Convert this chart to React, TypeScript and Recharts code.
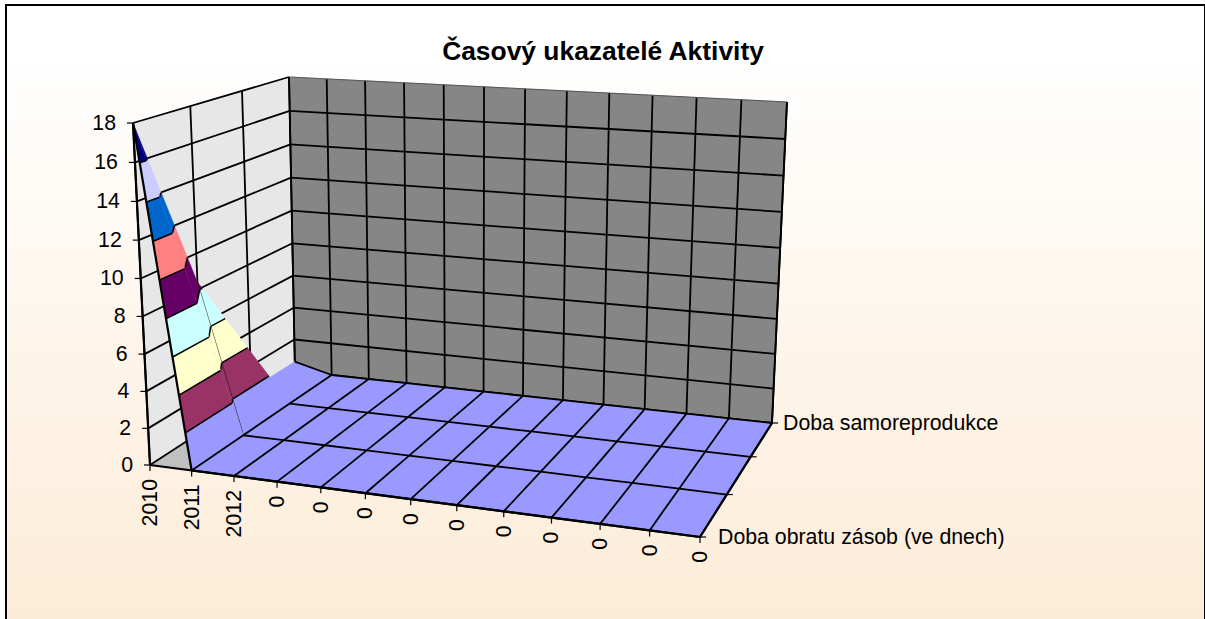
import { ScatterChart, Scatter, XAxis, YAxis } from 'recharts';

const WIDTH = 1205;
const HEIGHT = 619;

const TITLE = 'Časový ukazatelé Aktivity';
const categories = ['2010', '2011', '2012', '0', '0', '0', '0', '0', '0', '0', '0', '0', '0'];
const seriesNames = ['Doba obratu zásob (ve dnech)', '', '', 'Doba samoreprodukce'];
const valueTicks = [0, 2, 4, 6, 8, 10, 12, 14, 16, 18];

const obratZasob = [18, 0, 0, 0, 0, 0, 0, 0, 0, 0, 0, 0, 0];
const obratPohledavek = [8.4, 0, 0, 0, 0, 0, 0, 0, 0, 0, 0, 0, 0];
const obratZavazku = [0.6, 0, 0, 0, 0, 0, 0, 0, 0, 0, 0, 0, 0];
const samoreprodukce = [0.6, 0, 0, 0, 0, 0, 0, 0, 0, 0, 0, 0, 0];
const rows = [obratZasob, obratPohledavek, obratZavazku, samoreprodukce];

const bandColors = ['#9999FF', '#993366', '#FFFFCC', '#CCFFFF', '#660066', '#FF8080', '#0066CC', '#CCCCFF', '#000080'];

type Pt = { x: number; y: number };
type Shape = { points: Pt[]; fill: string; stroke: string; strokeWidth: number };
type P3 = { u: number; v: number; z: number };

// corners of the 3d box as it sits on the page
const floorMap = quadMap({ x: 150, y: 465 }, { x: 700, y: 537 }, { x: 772, y: 423 }, { x: 295, y: 371 });
const ceilMap = quadMap({ x: 133, y: 123 }, { x: 714, y: 150 }, { x: 787, y: 102 }, { x: 289, y: 77 });
const zMax = valueTicks[valueTicks.length - 1];

function quadMap(p0: Pt, p1: Pt, p2: Pt, p3: Pt) {
  const dx1 = p1.x - p2.x;
  const dx2 = p3.x - p2.x;
  const dy1 = p1.y - p2.y;
  const dy2 = p3.y - p2.y;
  const sx = p0.x - p1.x + p2.x - p3.x;
  const sy = p0.y - p1.y + p2.y - p3.y;
  const det = dx1 * dy2 - dx2 * dy1;
  const g = (sx * dy2 - dx2 * sy) / det;
  const h = (dx1 * sy - sx * dy1) / det;
  const a = p1.x - p0.x + g * p1.x;
  const b = p3.x - p0.x + h * p3.x;
  const d = p1.y - p0.y + g * p1.y;
  const e = p3.y - p0.y + h * p3.y;
  return (u: number, v: number): Pt => {
    const w = g * u + h * v + 1;
    return { x: (a * u + b * v + p0.x) / w, y: (d * u + e * v + p0.y) / w };
  };
}

// foreshortening along an axis, k < 1 squeezes the low end
const warp = (t: number, k: number) => (t * k) / (1 + (k - 1) * t);

const project = ({ u, v, z }: P3): Pt => {
  const lo = floorMap(u, v);
  const hi = ceilMap(warp(u, 0.87), v);
  const t = warp(z / zMax, 0.96);
  return { x: lo.x + (hi.x - lo.x) * t, y: lo.y + (hi.y - lo.y) * t };
};

const uAt = (i: number) => i / (categories.length - 1);
const vAt = (j: number) => j / (rows.length - 1);

const line = (a: P3, b: P3, width = 1.8, stroke = '#000'): Shape => ({
  points: [project(a), project(b)],
  fill: 'none',
  stroke,
  strokeWidth: width,
});

const polygon = (pts: P3[], fill: string): Shape => {
  const points = pts.map(project);
  return { points: [...points, points[0]], fill, stroke: fill, strokeWidth: 0.4 };
};

// Clip a triangle to one side of a height level
const clip = (poly: P3[], level: number, keepAbove: boolean): P3[] => {
  const out: P3[] = [];
  const inside = (p: P3) => (keepAbove ? p.z >= level : p.z <= level);
  poly.forEach((p, i) => {
    const q = poly[(i + 1) % poly.length];
    if (inside(p)) out.push(p);
    if (inside(p) !== inside(q)) {
      const t = (level - p.z) / (q.z - p.z);
      out.push({ u: p.u + (q.u - p.u) * t, v: p.v + (q.v - p.v) * t, z: level });
    }
  });
  return out;
};

const triangleShapes = (tri: P3[]): Shape[] => {
  const shapes: Shape[] = [];
  const contours: Shape[] = [];
  bandColors.forEach((color, b) => {
    const lo = valueTicks[b];
    const hi = valueTicks[b + 1];
    const part = clip(clip(tri, lo, true), hi, false);
    if (part.length < 3) return;
    shapes.push(polygon(part, color));
    if (hi === zMax) return;
    part.forEach((p, i) => {
      const q = part[(i + 1) % part.length];
      if (p.z === hi && q.z === hi) contours.push(line(p, q, 1.5));
    });
  });
  return [...shapes, ...contours];
};

const buildWalls = (): Shape[] => {
  const shapes: Shape[] = [
    polygon([{ u: 0, v: 1, z: 0 }, { u: 1, v: 1, z: 0 }, { u: 1, v: 1, z: zMax }, { u: 0, v: 1, z: zMax }], '#868686'),
    polygon([{ u: 0, v: 0, z: 0 }, { u: 0, v: 1, z: 0 }, { u: 0, v: 1, z: zMax }, { u: 0, v: 0, z: zMax }], '#E7E7E7'),
    polygon([{ u: 0, v: 0, z: 0 }, { u: 1, v: 0, z: 0 }, { u: 1, v: 1, z: 0 }, { u: 0, v: 1, z: 0 }], '#C0C0C0'),
  ];
  categories.forEach((_, i) => shapes.push(line({ u: uAt(i), v: 1, z: 0 }, { u: uAt(i), v: 1, z: zMax })));
  rows.forEach((_, j) => shapes.push(line({ u: 0, v: vAt(j), z: 0 }, { u: 0, v: vAt(j), z: zMax })));
  valueTicks.forEach((z) => {
    shapes.push(line({ u: 0, v: 0, z }, { u: 0, v: 1, z }));
    if (z < zMax) shapes.push(line({ u: 0, v: 1, z }, { u: 1, v: 1, z }));
  });
  shapes.push(line({ u: 0, v: 1, z: zMax }, { u: 1, v: 1, z: zMax }, 1, '#555'));
  return shapes;
};

const buildSurface = (): Shape[] => {
  const shapes: Shape[] = [];
  const flatLines: Shape[] = [];
  const vertex = (i: number, j: number): P3 => ({ u: uAt(i), v: vAt(j), z: rows[j][i] });
  // mesh lines lying flat on the floor go on top at the end, the raised ones stay in paint order
  const mesh = (a: P3, b: P3, width: number) => {
    if (a.z === 0 && b.z === 0) flatLines.push(line(a, b, width));
    else shapes.push(line(a, b, width));
  };
  // back row first, so nearer cells paint over it
  for (let j = rows.length - 2; j >= 0; j--) {
    for (let i = categories.length - 2; i >= 0; i--) {
      const a = vertex(i, j);
      const b = vertex(i + 1, j);
      const c = vertex(i + 1, j + 1);
      const d = vertex(i, j + 1);
      shapes.push(...triangleShapes([a, c, d]));
      shapes.push(...triangleShapes([a, b, c]));
      if (j === rows.length - 2) mesh(d, c, 1.8);
      mesh(a, b, j === 0 ? 2.2 : a.z > 0 ? 1.2 : 1.8);
      mesh(b, c, 1.8);
    }
  }
  return [...shapes, ...flatLines];
};

const buildAxes = (): Shape[] => {
  const shapes: Shape[] = [
    line({ u: 0, v: 0, z: 0 }, { u: 0, v: 0, z: zMax }, 2.2),
    line({ u: 0, v: 0, z: 0 }, { u: 1, v: 0, z: 0 }, 2.2),
    line({ u: 1, v: 0, z: 0 }, { u: 1, v: 1, z: 0 }, 2.2),
    line({ u: 1, v: 1, z: 0 }, { u: 1, v: 1, z: zMax }, 1.8),
  ];
  const tick = (p: Pt, dx: number, dy: number): Shape => ({
    points: [p, { x: p.x + dx, y: p.y + dy }],
    fill: 'none',
    stroke: '#000',
    strokeWidth: 1.2,
  });
  valueTicks.forEach((z) => shapes.push(tick(project({ u: 0, v: 0, z }), -6, 0)));
  categories.forEach((_, i) => shapes.push(tick(project({ u: uAt(i), v: 0, z: 0 }), 0, 6)));
  rows.forEach((_, j) => shapes.push(tick(project({ u: 1, v: vAt(j), z: 0 }), 6, 0)));
  return shapes;
};

type Label = Pt & { text: string; anchor: string; rotate: number; size: number; bold?: boolean };

const buildLabels = (): Label[] => {
  const labels: Label[] = [{ x: 603, y: 51, text: TITLE, anchor: 'middle', rotate: 0, size: 26.4, bold: true }];
  valueTicks.forEach((z) => {
    const p = project({ u: 0, v: 0, z });
    labels.push({ x: p.x - 17, y: p.y, text: String(z), anchor: 'end', rotate: 0, size: 21.3 });
  });
  categories.forEach((text, i) => {
    const p = project({ u: uAt(i), v: 0, z: 0 });
    labels.push({ x: p.x, y: p.y + 14, text, anchor: 'end', rotate: -90, size: 21.3 });
  });
  seriesNames.forEach((text, j) => {
    if (!text) return;
    const p = project({ u: 1, v: vAt(j), z: 0 });
    labels.push({ x: p.x + (j === 0 ? 18 : 11), y: p.y, text, anchor: 'start', rotate: 0, size: 21.3 });
  });
  return labels;
};

const shapes = [...buildWalls(), ...buildSurface(), ...buildAxes()];
const labels = buildLabels();

const NoPoint = () => <g />;

const LabelText = (props: any) => {
  const { cx, cy, payload } = props;
  const l = payload as Label;
  return (
    <text
      x={cx}
      y={cy}
      textAnchor={l.anchor}
      dominantBaseline="central"
      fontSize={l.size}
      fontWeight={l.bold ? 700 : 400}
      fontFamily="Liberation Sans, Arial, sans-serif"
      fill="#000"
      transform={l.rotate ? `rotate(${l.rotate} ${cx} ${cy})` : undefined}
    >
      {l.text}
    </text>
  );
};

export default function App() {
  return (
    <div style={{ position: 'fixed', left: 0, top: 0, width: WIDTH, height: HEIGHT, overflow: 'hidden', background: '#fff' }}>
      {/* chart area box, runs off the bottom of the page */}
      <div
        style={{
          position: 'absolute',
          left: 5,
          top: 4,
          width: 1197,
          height: 640,
          border: '2px solid #000',
          background: 'linear-gradient(#ffffff 0%, #ffffff 8%, #fcebd5 100%)',
        }}
      />
      <div style={{ position: 'absolute', left: 0, top: 0 }}>
        <ScatterChart width={WIDTH} height={HEIGHT} margin={{ top: 0, right: 0, bottom: 0, left: 0 }}>
          <XAxis type="number" dataKey="x" domain={[0, WIDTH]} hide />
          <YAxis type="number" dataKey="y" domain={[0, HEIGHT]} reversed hide />
          {shapes.map((s, i) => (
            <Scatter
              key={i}
              data={s.points}
              line={{ fill: s.fill, stroke: s.stroke, strokeWidth: s.strokeWidth }}
              shape={NoPoint}
              isAnimationActive={false}
            />
          ))}
          <Scatter data={labels} shape={LabelText} isAnimationActive={false} />
        </ScatterChart>
      </div>
    </div>
  );
}
